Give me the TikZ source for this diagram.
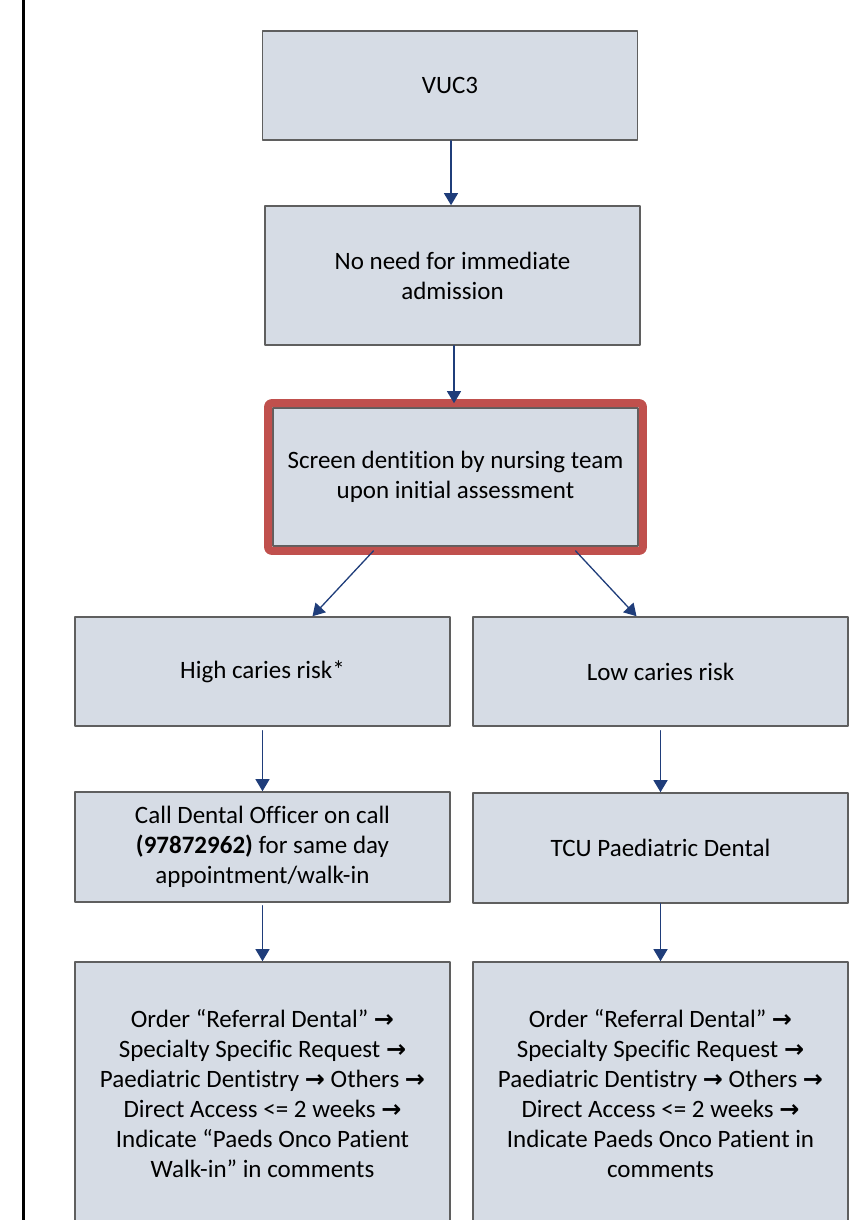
\documentclass[tikz,border=0pt]{standalone}
\usepackage{fontspec}
\setmainfont{Carlito}[Ligatures=NoCommon]
\newfontfamily\arrowfont{DejaVu Sans}
\usetikzlibrary{arrows.meta}
\definecolor{boxfill}{RGB}{214,220,229}
\definecolor{boxline}{RGB}{95,95,95}
\definecolor{flowblue}{RGB}{31,61,122}
\definecolor{alertred}{RGB}{192,80,77}
\newcommand{\thento}{{\arrowfont\bfseries\fontsize{24}{30}\selectfont →}}

\begin{document}
\begin{tikzpicture}[line cap=round,line join=round,x=1pt,y=-1pt,
    box/.style={draw=boxline,line width=1.6pt,fill=boxfill,align=center,inner sep=0pt,
        font=\fontsize{25}{30}\selectfont,minimum width=375pt,minimum height=109pt},
    flow/.style={draw=flowblue,line width=1.3pt,-{Triangle[length=12pt,width=14pt]}},
    redframe/.style={draw=alertred,line width=8pt,rounded corners=3pt}]
    \useasboundingbox (0,0) rectangle (867,1220);
    \clip (0,0) rectangle (867,1220);
    % margin rule
    \draw [line width=2.2pt] (23.5,0) -- (23.5,1220);
    % boxes
    \node[box] (vuc) at (450,85.5) {VUC3};
    \node[box,minimum height=139pt] (noneed) at (452.5,275.5) {No need for immediate\\admission};
    \node[box,minimum width=365pt,minimum height=138pt] (screen) at (455.5,477) {Screen dentition by nursing team\\upon initial assessment};
    \draw [redframe] ([shift={(-4,-4)}]screen.north west) rectangle ([shift={(4,4)}]screen.south east);
    \node[box] (high) at (262.5,671.5) {High caries risk*};
    \node[box] (low) at (660.5,671.5) {Low caries risk};
    \node[box,minimum height=110pt] (call) at (262.5,847) {Call Dental Officer on call\\\textbf{(97872962)} for same day\\appointment/walk-in};
    \node[box,minimum height=110pt] (tcu) at (660.5,848) {TCU Paediatric Dental};
    \node[box,minimum height=263pt] (orderhigh) at (262.5,1093.5) {Order “Referral Dental” \thento\\Specialty Specific Request \thento\\Paediatric Dentistry \thento{} Others \thento\\Direct Access <= 2 weeks \thento\\Indicate “Paeds Onco Patient\\Walk-in” in comments};
    \node[box,minimum height=263pt] (orderlow) at (660.5,1093.5) {Order “Referral Dental” \thento\\Specialty Specific Request \thento\\Paediatric Dentistry \thento{} Others \thento\\Direct Access <= 2 weeks \thento\\Indicate Paeds Onco Patient in\\comments};
    % connectors
    \draw [flow] ([xshift=1pt]vuc.south) -- ([xshift=1pt]vuc.south |- noneed.north);
    \draw [flow] ([xshift=1.5pt]noneed.south) -- ([xshift=1.5pt,yshift=4pt]noneed.south |- screen.north);
    \draw [flow] ([xshift=-82pt,yshift=-4pt]screen.south) -- ([xshift=50pt]high.north);
    \draw [flow] ([xshift=120pt,yshift=-4pt]screen.south) -- ([xshift=-24pt]low.north);
    \draw [flow,shorten <=4pt] (high.south) -- (call.north);
    \draw [flow,shorten <=4pt] (low.south) -- (tcu.north);
    \draw [flow,shorten <=3pt] (call.south) -- (orderhigh.north);
    \draw [flow] (tcu.south) -- (orderlow.north);
\end{tikzpicture}
\end{document}
